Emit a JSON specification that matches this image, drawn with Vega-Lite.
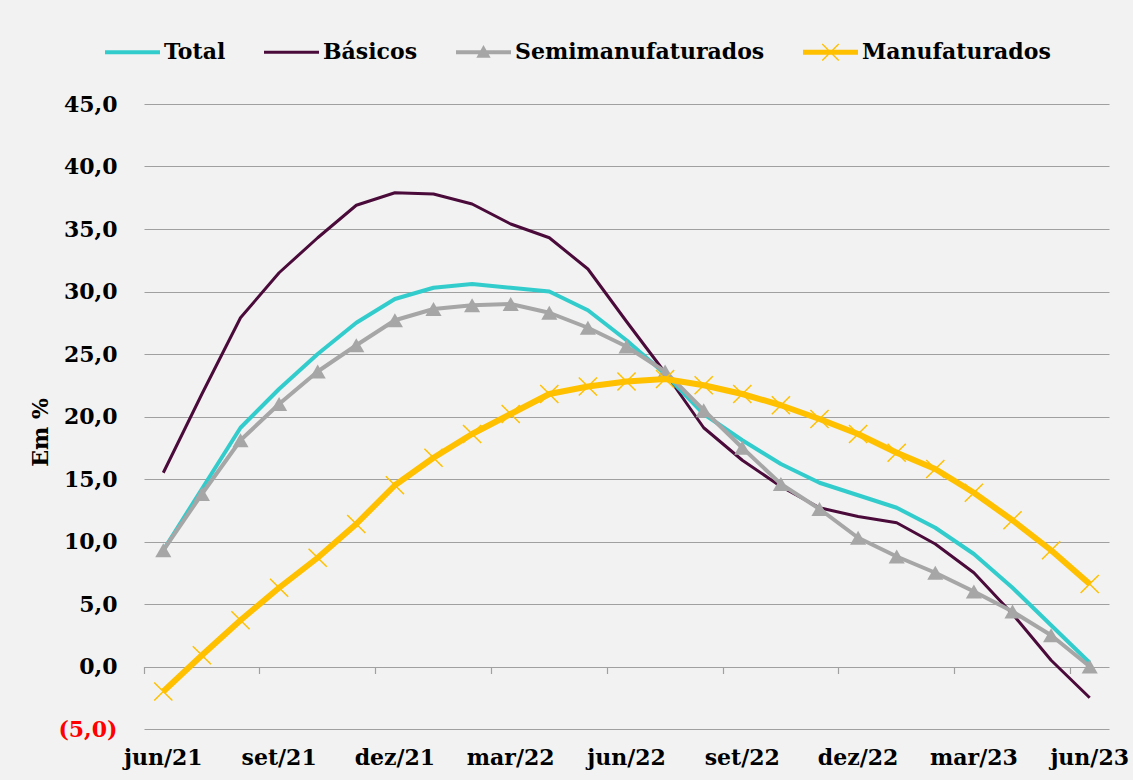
{
  "$schema": "https://vega.github.io/schema/vega-lite/v6.json",
  "width": 965,
  "height": 625,
  "autosize": {"type": "none"},
  "padding": {"left": 144, "top": 104, "right": 24, "bottom": 51},
  "background": "#F2F2F2",
  "config": {
    "view": {"stroke": null},
    "font": "DejaVu Serif"
  },
  "data": {
    "values": [
      {"mes": "jun/21", "Total": 9.3, "Básicos": 15.5, "Semimanufaturados": 9.3, "Manufaturados": -2.0},
      {"mes": "jul/21", "Total": 14.2, "Básicos": 21.8, "Semimanufaturados": 13.8, "Manufaturados": 0.9},
      {"mes": "ago/21", "Total": 19.1, "Básicos": 27.9, "Semimanufaturados": 18.1, "Manufaturados": 3.7},
      {"mes": "set/21", "Total": 22.2, "Básicos": 31.5, "Semimanufaturados": 21.0, "Manufaturados": 6.3},
      {"mes": "out/21", "Total": 25.0, "Básicos": 34.3, "Semimanufaturados": 23.6, "Manufaturados": 8.7},
      {"mes": "nov/21", "Total": 27.5, "Básicos": 36.9, "Semimanufaturados": 25.7, "Manufaturados": 11.4},
      {"mes": "dez/21", "Total": 29.4, "Básicos": 37.9, "Semimanufaturados": 27.7, "Manufaturados": 14.5},
      {"mes": "jan/22", "Total": 30.3, "Básicos": 37.8, "Semimanufaturados": 28.6, "Manufaturados": 16.7},
      {"mes": "fev/22", "Total": 30.6, "Básicos": 37.0, "Semimanufaturados": 28.9, "Manufaturados": 18.6},
      {"mes": "mar/22", "Total": 30.3, "Básicos": 35.4, "Semimanufaturados": 29.0, "Manufaturados": 20.2},
      {"mes": "abr/22", "Total": 30.0, "Básicos": 34.3, "Semimanufaturados": 28.3, "Manufaturados": 21.8},
      {"mes": "mai/22", "Total": 28.5, "Básicos": 31.8, "Semimanufaturados": 27.1, "Manufaturados": 22.4},
      {"mes": "jun/22", "Total": 26.1, "Básicos": 27.6, "Semimanufaturados": 25.6, "Manufaturados": 22.8},
      {"mes": "jul/22", "Total": 23.4, "Básicos": 23.5, "Semimanufaturados": 23.6, "Manufaturados": 23.0},
      {"mes": "ago/22", "Total": 20.2, "Básicos": 19.1, "Semimanufaturados": 20.5, "Manufaturados": 22.5},
      {"mes": "set/22", "Total": 18.1, "Básicos": 16.5, "Semimanufaturados": 17.5, "Manufaturados": 21.8},
      {"mes": "out/22", "Total": 16.2, "Básicos": 14.4, "Semimanufaturados": 14.6, "Manufaturados": 20.9},
      {"mes": "nov/22", "Total": 14.7, "Básicos": 12.7, "Semimanufaturados": 12.6, "Manufaturados": 19.8},
      {"mes": "dez/22", "Total": 13.7, "Básicos": 12.0, "Semimanufaturados": 10.3, "Manufaturados": 18.6},
      {"mes": "jan/23", "Total": 12.7, "Básicos": 11.5, "Semimanufaturados": 8.8, "Manufaturados": 17.1},
      {"mes": "fev/23", "Total": 11.1, "Básicos": 9.8, "Semimanufaturados": 7.5, "Manufaturados": 15.8},
      {"mes": "mar/23", "Total": 9.0, "Básicos": 7.5, "Semimanufaturados": 6.0, "Manufaturados": 13.9},
      {"mes": "abr/23", "Total": 6.3, "Básicos": 4.2, "Semimanufaturados": 4.4, "Manufaturados": 11.7},
      {"mes": "mai/23", "Total": 3.3, "Básicos": 0.5, "Semimanufaturados": 2.5, "Manufaturados": 9.3},
      {"mes": "jun/23", "Total": 0.3, "Básicos": -2.5, "Semimanufaturados": 0.0, "Manufaturados": 6.6}
    ]
  },
  "transform": [
    {"fold": ["Total", "Básicos", "Semimanufaturados", "Manufaturados"], "as": ["serie", "valor"]}
  ],
  "resolve": {"axis": {"x": "independent"}},
  "encoding": {
    "y": {
      "field": "valor", "type": "quantitative",
      "scale": {"domain": [-5, 45], "nice": false, "zero": false},
      "axis": {
        "title": "Em %",
        "titleFont": "DejaVu Serif", "titleFontWeight": "bold", "titleFontSize": 22, "titleColor": "#000000",
        "titleY": 328, "titlePadding": 5,
        "values": [-5, 0, 5, 10, 15, 20, 25, 30, 35, 40, 45],
        "labelExpr": "datum.value < 0 ? '(' + replace(format(-datum.value, '.1f'), '.', ',') + ')' : replace(format(datum.value, '.1f'), '.', ',')",
        "labelFont": "DejaVu Serif", "labelFontWeight": "bold", "labelFontSize": 22,
        "labelColor": {"condition": {"test": "datum.value < 0", "value": "#FF0000"}, "value": "#000000"},
        "labelPadding": 27,
        "domain": false, "ticks": false,
        "grid": true, "gridColor": "#A0A0A0", "gridWidth": 1.2
      }
    }
  },
  "layer": [
    {
      "transform": [{"filter": "datum.serie === 'Básicos'"}],
      "mark": {"type": "line", "color": "#4A0A3A", "strokeWidth": 3, "strokeJoin": "round"},
      "encoding": {
        "x": {
          "field": "mes", "type": "ordinal", "sort": null, "bandPosition": 0.5,
          "scale": {"type": "band", "paddingInner": 0, "paddingOuter": 0},
          "axis": {
            "orient": "bottom",
            "title": null,
            "values": ["jun/21", "set/21", "dez/21", "mar/22", "jun/22", "set/22", "dez/22", "mar/23", "jun/23"],
            "domain": false, "ticks": false, "grid": false,
            "labelAngle": 0,
            "labelFont": "DejaVu Serif", "labelFontWeight": "bold", "labelFontSize": 22,
            "labelColor": "#000000", "labelPadding": 18
          }
        }
      }
    },
    {
      "transform": [{"filter": "datum.serie === 'Total'"}],
      "mark": {"type": "line", "color": "#33CCCC", "strokeWidth": 4, "strokeJoin": "round"},
      "encoding": {
        "x": {
          "field": "mes", "type": "ordinal", "sort": null, "bandPosition": 0.5,
          "axis": {
            "orient": "bottom", "offset": -62.5, "title": null,
            "values": ["jun/21", "set/21", "dez/21", "mar/22", "jun/22", "set/22", "dez/22", "mar/23", "jun/23"],
            "bandPosition": 0,
            "labels": false, "domain": false, "grid": false,
            "ticks": true, "tickSize": 7, "tickColor": "#A0A0A0", "tickWidth": 1.2
          }
        }
      }
    },
    {
      "transform": [{"filter": "datum.serie === 'Semimanufaturados'"}],
      "mark": {"type": "line", "color": "#A6A6A6", "strokeWidth": 4, "strokeJoin": "round"},
      "encoding": {
        "x": {"field": "mes", "type": "ordinal", "sort": null, "bandPosition": 0.5, "axis": null}
      }
    },
    {
      "transform": [{"filter": "datum.serie === 'Semimanufaturados'"}],
      "mark": {"type": "point", "shape": "triangle-up", "filled": true, "size": 260, "opacity": 1, "color": "#A6A6A6"},
      "encoding": {
        "x": {"field": "mes", "type": "ordinal", "sort": null, "bandPosition": 0.5, "axis": null}
      }
    },
    {
      "transform": [{"filter": "datum.serie === 'Manufaturados'"}],
      "mark": {"type": "line", "color": "#FFC000", "strokeWidth": 6, "strokeJoin": "round"},
      "encoding": {
        "x": {"field": "mes", "type": "ordinal", "sort": null, "bandPosition": 0.5, "axis": null}
      }
    },
    {
      "transform": [{"filter": "datum.serie === 'Manufaturados'"}],
      "mark": {"type": "point", "shape": "M-1,-1L1,1M-1,1L1,-1", "filled": false, "size": 330, "opacity": 1, "stroke": "#FFC000", "strokeWidth": 1.5},
      "encoding": {
        "x": {"field": "mes", "type": "ordinal", "sort": null, "bandPosition": 0.5, "axis": null}
      }
    },
    {
      "transform": [{"filter": "false"}],
      "mark": {"type": "point", "filled": true, "opacity": 1},
      "encoding": {
        "x": {"field": "mes", "type": "ordinal", "sort": null, "bandPosition": 0.5, "axis": null},
        "color": {
          "field": "serie", "type": "nominal",
          "scale": {"domain": ["Total", "Básicos", "Semimanufaturados", "Manufaturados"], "range": ["#33CCCC", "#4A0A3A", "#A6A6A6", "#FFC000"]},
          "legend": {
            "title": null, "orient": "none", "direction": "horizontal",
            "legendX": -39, "legendY": -79.5, "padding": 0,
            "symbolSize": 3025, "symbolOpacity": 1, "symbolStrokeWidth": 0,
            "labelFont": "DejaVu Serif", "labelFontWeight": "bold", "labelFontSize": 22,
            "labelColor": "#000000", "labelOffset": 4, "columnPadding": 38, "labelLimit": 400
          }
        },
        "shape": {
          "field": "serie", "type": "nominal",
          "scale": {
            "domain": ["Total", "Básicos", "Semimanufaturados", "Manufaturados"],
            "range": [
              "M-1,-0.07L1,-0.07L1,0.07L-1,0.07Z",
              "M-1,-0.055L1,-0.055L1,0.055L-1,0.055Z",
              "M-1,-0.07L1,-0.07L1,0.07L-1,0.07Z M-0.26,0.2L0,-0.26L0.26,0.2Z",
              "M-1,-0.09L1,-0.09L1,0.09L-1,0.09Z M-0.282,-0.318L0.318,0.282L0.282,0.318L-0.318,-0.282Z M-0.318,0.282L0.282,-0.318L0.318,-0.282L-0.282,0.318Z"
            ]
          },
          "legend": {
            "title": null, "orient": "none", "direction": "horizontal",
            "legendX": -39, "legendY": -79.5, "padding": 0,
            "symbolSize": 3025, "symbolOpacity": 1, "symbolStrokeWidth": 0,
            "labelFont": "DejaVu Serif", "labelFontWeight": "bold", "labelFontSize": 22,
            "labelColor": "#000000", "labelOffset": 4, "columnPadding": 38, "labelLimit": 400
          }
        }
      }
    }
  ]
}
